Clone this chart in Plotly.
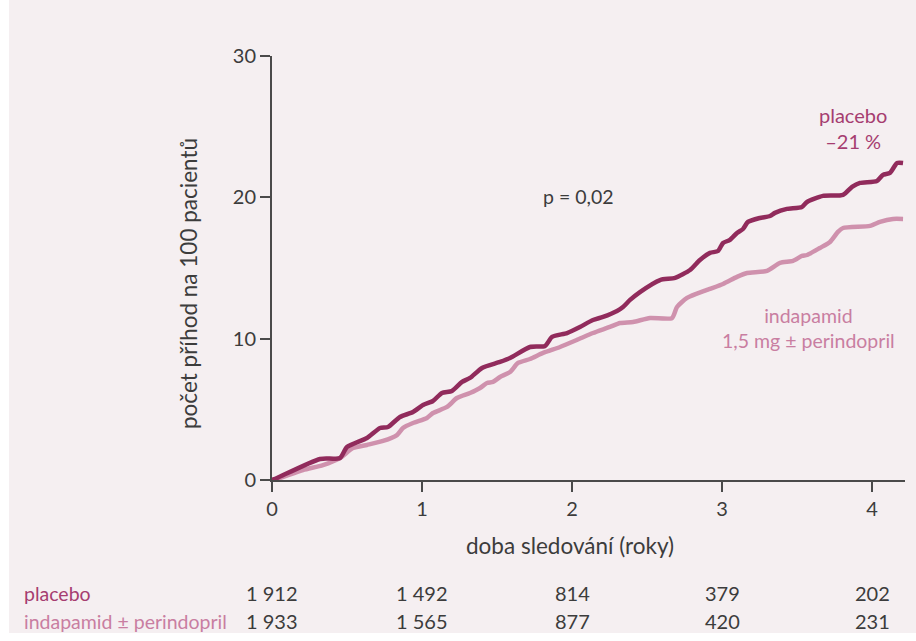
import plotly.graph_objects as go

# Cumulative incidence (events per 100 patients) over follow-up time (years)
placebo_t = [0, 0.033, 0.32, 0.453, 0.5, 0.633, 0.72, 0.773, 0.853, 0.94, 1.007, 1.073, 1.133, 1.2,
             1.267, 1.32, 1.4, 1.52, 1.587, 1.72, 1.82, 1.867, 1.967, 2.053, 2.14, 2.207, 2.3, 2.34,
             2.387, 2.453, 2.587, 2.687, 2.787, 2.853, 2.92, 2.973, 3.007, 3.053, 3.1, 3.14, 3.173,
             3.253, 3.32, 3.353, 3.433, 3.533, 3.567, 3.673, 3.807, 3.867, 3.92, 4.033, 4.073, 4.12,
             4.167, 4.207]
placebo_y = [0, 0.14, 1.49, 1.56, 2.34, 2.97, 3.68, 3.75, 4.46, 4.81, 5.31, 5.59, 6.16, 6.3,
             6.94, 7.22, 7.93, 8.35, 8.63, 9.41, 9.48, 10.12, 10.4, 10.83, 11.32, 11.54, 11.96, 12.24,
             12.74, 13.3, 14.15, 14.3, 14.86, 15.57, 16.07, 16.2, 16.77, 16.99, 17.48, 17.76, 18.26,
             18.54, 18.68, 18.9, 19.18, 19.32, 19.67, 20.1, 20.17, 20.74, 21.02, 21.16, 21.59, 21.73,
             22.43, 22.43]

indap_t = [0, 0.033, 0.207, 0.34, 0.453, 0.54, 0.633, 0.74, 0.833, 0.873, 0.94, 1.033, 1.073, 1.167,
           1.233, 1.32, 1.387, 1.433, 1.473, 1.52, 1.587, 1.64, 1.72, 1.807, 1.92, 2.033, 2.14, 2.253,
           2.32, 2.407, 2.52, 2.667, 2.7, 2.767, 2.9, 3.007, 3.1, 3.167, 3.3, 3.387, 3.473, 3.533,
           3.567, 3.653, 3.72, 3.773, 3.807, 3.987, 4.053, 4.14, 4.207]
indap_y = [0, 0.07, 0.71, 1.06, 1.56, 2.26, 2.48, 2.76, 3.18, 3.68, 4.03, 4.39, 4.74, 5.17,
           5.8, 6.16, 6.51, 6.86, 6.94, 7.29, 7.64, 8.28, 8.56, 8.99, 9.41, 9.91, 10.4, 10.83,
           11.11, 11.18, 11.46, 11.46, 12.24, 12.88, 13.45, 13.87, 14.37, 14.65, 14.79, 15.36, 15.5, 15.85,
           15.92, 16.42, 16.84, 17.55, 17.83, 17.98, 18.26, 18.47, 18.47]

# Patients at risk
risk_years = [0, 1, 2, 3, 4]
risk_placebo = ["1 912", "1 492", "814", "379", "202"]
risk_indap = ["1 933", "1 565", "877", "420", "231"]

x_ticks = [0, 1, 2, 3, 4]
y_ticks = [0, 10, 20, 30]

BG = "#f5eff1"
DARK = "#912b5c"
LIGHT = "#cf91ad"
DARK_TXT = "#a63d70"
LIGHT_TXT = "#c97ea1"
GRAY = "#3c3c3c"
AXIS = "#4a4a4a"
FONT = "Lato"

fig = go.Figure()
fig.add_trace(go.Scatter(x=indap_t, y=indap_y, mode="lines",
                         line=dict(color=LIGHT, width=4.5, shape="spline", smoothing=0.6),
                         hoverinfo="skip", showlegend=False))
fig.add_trace(go.Scatter(x=placebo_t, y=placebo_y, mode="lines",
                         line=dict(color=DARK, width=4.5, shape="spline", smoothing=0.6),
                         hoverinfo="skip", showlegend=False))

W, H = 916, 641
L, R, T, B = 272, 11, 56, 161
pw, ph = W - L - R, H - T - B


def px_x(px):
    return (px - L) / pw


def px_y(py):
    return (H - B - py) / ph


def label(text, x, y, color=GRAY, size=20, xanchor="center", angle=0, xref="paper"):
    return dict(text=text, x=x, y=y, xref=xref, yref="paper", xanchor=xanchor, yanchor="middle",
                showarrow=False, textangle=angle, align="center",
                font=dict(size=size, color=color, family=FONT))


ann = [
    label("placebo<br>–21 %", px_x(853), px_y(128), DARK_TXT, size=20),
    label("p = 0,02", px_x(578), px_y(196), size=19.5),
    label("indapamid<br>1,5 mg ± perindopril", px_x(808), px_y(328), LIGHT_TXT, size=19.5),
    label("doba sledování (roky)", px_x(570), px_y(545), size=22.5),
    label("počet příhod na 100 pacientů", px_x(188), px_y(284), size=22.5, angle=-90),
    label("placebo", px_x(22), px_y(593), DARK_TXT, size=19.5, xanchor="left"),
    label("indapamid ± perindopril", px_x(22), px_y(621), LIGHT_TXT, size=19.5, xanchor="left"),
]
for yr, a, b in zip(risk_years, risk_placebo, risk_indap):
    ann.append(label(a, yr, px_y(593), size=20, xref="x"))
    ann.append(label(b, yr, px_y(621), size=20, xref="x"))

shapes = [
    dict(type="rect", xref="paper", yref="paper", x0=px_x(0), x1=px_x(9), y0=px_y(641), y1=px_y(0),
         fillcolor="white", line=dict(width=0), layer="below"),
    dict(type="rect", xref="paper", yref="paper", x0=px_x(0), x1=px_x(916), y0=px_y(641), y1=px_y(633),
         fillcolor="white", line=dict(width=0), layer="below"),
]

axis_common = dict(showgrid=False, zeroline=False, showline=True, linecolor=AXIS, linewidth=2,
                   ticks="outside", ticklen=10, tickwidth=2, tickcolor=AXIS,
                   tickfont=dict(size=20, color=GRAY, family=FONT))

fig.update_layout(
    width=W, height=H,
    margin=dict(l=L, r=R, t=T, b=B, pad=0),
    paper_bgcolor=BG, plot_bgcolor=BG,
    font=dict(family=FONT, color=GRAY, size=20),
    annotations=ann, shapes=shapes,
    xaxis=dict(range=[0, 4.22], tickvals=x_ticks, ticktext=[str(v) for v in x_ticks], **axis_common),
    yaxis=dict(range=[0, 30], tickvals=y_ticks, ticktext=[str(v) for v in y_ticks], **axis_common),
)

fig.write_html("out.html")
